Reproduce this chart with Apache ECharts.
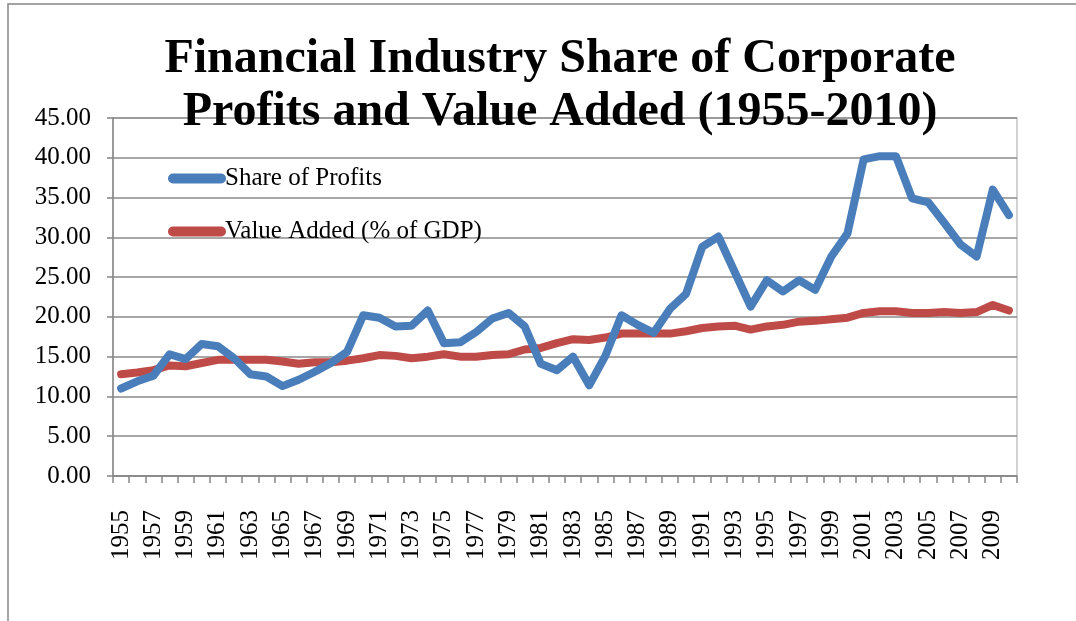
<!DOCTYPE html>
<html>
<head>
<meta charset="utf-8">
<script src="https://cdn.jsdelivr.net/npm/echarts@6/dist/echarts.min.js"></script>
<style>
  html, body { margin: 0; padding: 0; background: #fff; }
  #main { width: 1076px; height: 621px; }
</style>
</head>
<body>
<div id="main"></div>
<script>
var years = [];
for (var y = 1955; y <= 2010; y++) years.push(String(y));

var shareOfProfits = [
  11.0, 11.9, 12.6, 15.3, 14.7, 16.6, 16.3, 14.8, 12.8, 12.5,
  11.3, 12.1, 13.1, 14.2, 15.6, 20.2, 19.9, 18.8, 18.9, 20.8,
  16.7, 16.8, 18.1, 19.8, 20.5, 18.8, 14.1, 13.3, 15.0, 11.4,
  15.1, 20.2, 19.0, 18.0, 21.0, 22.9, 28.8, 30.1, 25.7, 21.3,
  24.6, 23.2, 24.6, 23.4, 27.6, 30.5, 39.8, 40.2, 40.2, 34.9,
  34.4, 31.8, 29.1, 27.6, 36.0, 32.8
];

var valueAdded = [
  12.8, 13.0, 13.3, 13.9, 13.8, 14.2, 14.6, 14.6, 14.6, 14.6,
  14.4, 14.1, 14.3, 14.3, 14.5, 14.8, 15.2, 15.1, 14.8, 15.0,
  15.3, 15.0, 15.0, 15.2, 15.3, 15.9, 16.1, 16.7, 17.2, 17.1,
  17.4, 17.9, 17.9, 17.9, 17.9, 18.2, 18.6, 18.8, 18.9, 18.4,
  18.8, 19.0, 19.4, 19.5, 19.7, 19.9, 20.5, 20.7, 20.7, 20.5,
  20.5, 20.6, 20.5, 20.6, 21.5, 20.8
];

var serif = "'Times New Roman', 'Liberation Serif', serif";

var dom = document.getElementById('main');
var myChart = echarts.init(dom, null, { renderer: 'canvas' });

var option = {
  animation: false,
  backgroundColor: '#fff',
  graphic: [
    {
      type: 'rect',
      shape: { x: 8, y: 4, width: 1200, height: 800 },
      style: { fill: 'none', stroke: '#878787', lineWidth: 1.5 },
      silent: true
    }
  ],
  title: {
    text: 'Financial Industry Share of Corporate\nProfits and Value Added (1955-2010)',
    left: 555,
    textAlign: 'center',
    top: 28,
    textStyle: {
      fontFamily: serif,
      fontWeight: 'bold',
      fontSize: 48,
      lineHeight: 53,
      color: '#000'
    }
  },
  legend: {
    orient: 'vertical',
    left: 163,
    top: 161,
    itemWidth: 58,
    itemHeight: 11,
    itemGap: 28,
    icon: 'path://M5,0H53A5,5,0,0,1,53,10H5A5,5,0,0,1,5,0Z',
    textStyle: {
      fontFamily: serif,
      fontSize: 25,
      lineHeight: 24,
      color: '#000',
      padding: [0, 0, 0, -6]
    },
    data: ['Share of Profits', 'Value Added (% of GDP)']
  },
  grid: {
    left: 113,
    right: 59,
    top: 118,
    bottom: 145,
    show: true,
    borderColor: '#c4c4c4',
    borderWidth: 1.5
  },
  xAxis: {
    type: 'category',
    data: years,
    boundaryGap: true,
    axisLine: { lineStyle: { color: '#878787', width: 1.5 } },
    axisTick: {
      show: true,
      interval: 0,
      alignWithLabel: false,
      length: 7,
      lineStyle: { color: '#878787', width: 1.5 }
    },
    axisLabel: {
      interval: 1,
      rotate: 90,
      margin: 34,
      fontFamily: serif,
      fontSize: 25,
      color: '#000'
    },
    splitLine: { show: false }
  },
  yAxis: {
    type: 'value',
    min: 0,
    max: 45,
    interval: 5,
    axisLine: { show: true, lineStyle: { color: '#878787', width: 1.5 } },
    axisTick: { show: true, length: 6, lineStyle: { color: '#878787', width: 1.5 } },
    axisLabel: {
      margin: 22,
      fontFamily: serif,
      fontSize: 25,
      color: '#000',
      formatter: function (v) { return v.toFixed(2); }
    },
    splitLine: { lineStyle: { color: '#8a8a8a', width: 1.5 } }
  },
  series: [
    {
      name: 'Share of Profits',
      type: 'line',
      data: shareOfProfits,
      symbol: 'none',
      color: '#4A7EBB',
      lineStyle: { width: 8, color: '#4A7EBB', cap: 'round', join: 'round' },
      z: 3
    },
    {
      name: 'Value Added (% of GDP)',
      type: 'line',
      data: valueAdded,
      symbol: 'none',
      color: '#BE4B48',
      lineStyle: { width: 8, color: '#BE4B48', cap: 'round', join: 'round' },
      z: 2
    }
  ]
};

myChart.setOption(option);
window.addEventListener('resize', myChart.resize);
</script>
</body>
</html>
